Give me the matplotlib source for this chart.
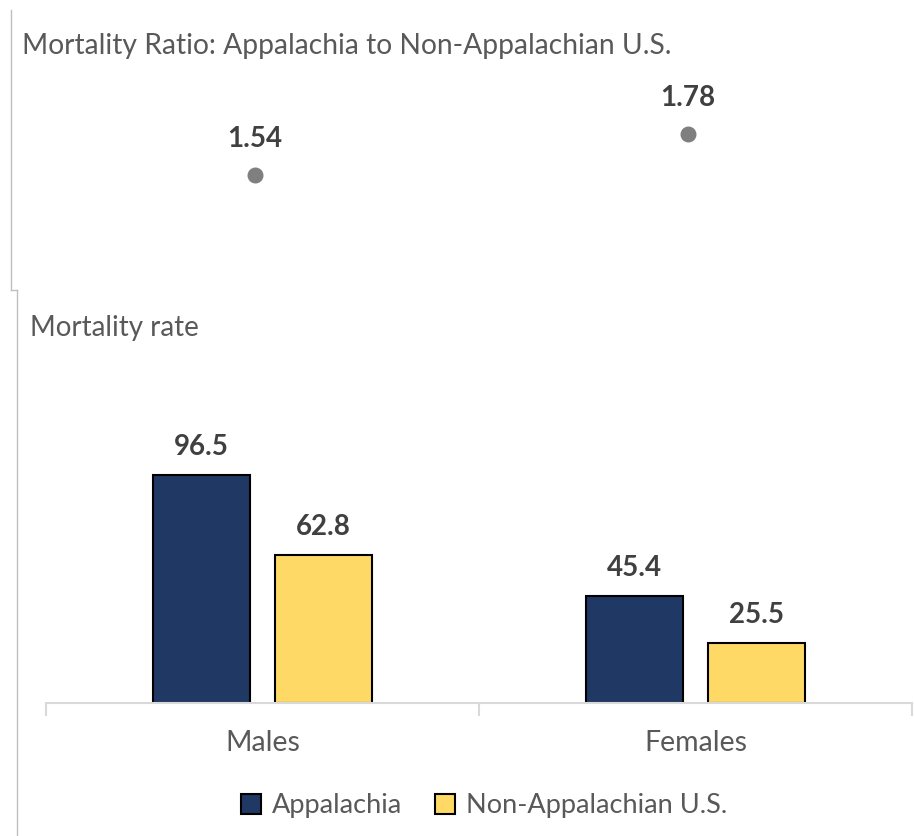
import matplotlib.pyplot as plt
from matplotlib.lines import Line2D
from matplotlib.patches import Patch

plt.rcParams['font.family'] = ['Lato', 'DejaVu Sans']

categories = ['Males', 'Females']
appalachia = [96.5, 45.4]
non_appalachia = [62.8, 25.5]
ratio = [1.54, 1.78]

navy = '#1F3864'
yellow = '#FFD966'
grey_text = '#595959'
label_text = '#404040'

W, H = 914, 836
fig = plt.figure(figsize=(W / 100, H / 100), dpi=100)


def box(left, top, right, bottom):
    # pixel box -> figure fraction rect
    return [left / W, 1 - bottom / H, (right - left) / W, (bottom - top) / H]


# panel border lines (light grey frame pieces)
fig.add_artist(Line2D([10.5 / W, 10.5 / W], [1 - 10 / H, 1 - 290 / H], color='#BFBFBF', lw=1))
fig.add_artist(Line2D([10.5 / W, 16.5 / W], [1 - 290 / H, 1 - 290 / H], color='#BFBFBF', lw=1))
fig.add_artist(Line2D([16.5 / W, 16.5 / W], [1 - 290 / H, 0], color='#BFBFBF', lw=1))

# top panel: ratio dots
ax1 = fig.add_axes(box(38, 79, 904, 250))
x = list(range(len(categories)))
ax1.scatter(x, ratio, s=110, color='#7F7F7F', zorder=3)
for xi, r in zip(x, ratio):
    ax1.annotate(f'{r:.2f}', (xi, r), xytext=(0, 36), textcoords='offset pixels',
                 ha='center', va='center', fontsize=20, fontweight='bold', color=label_text)
ax1.set_xlim(-0.5, 1.5)
ax1.set_ylim(1.1, 2.1)
ax1.axis('off')
fig.text(22 / W, 1 - 46 / H, 'Mortality Ratio: Appalachia to Non-Appalachian U.S.',
         ha='left', va='center', fontsize=20.3, color=grey_text)

# bottom panel: bars
ax2 = fig.add_axes(box(46, 420, 912, 703))
bw = 0.224
off = 0.141
b1 = ax2.bar([xi - off for xi in x], appalachia, bw, color=navy, edgecolor='black', lw=1.5,
             label='Appalachia')
b2 = ax2.bar([xi + off for xi in x], non_appalachia, bw, color=yellow, edgecolor='black', lw=1.5,
             label='Non-Appalachian U.S.')
for bars in (b1, b2):
    for b in bars:
        ax2.annotate(f'{b.get_height():.1f}', (b.get_x() + b.get_width() / 2, b.get_height()),
                     xytext=(0, 28), textcoords='offset pixels', ha='center', va='center',
                     fontsize=20, fontweight='bold', color=label_text)
ax2.set_xlim(-0.5, 1.5)
ax2.set_ylim(0, 120)
for s in ['top', 'right', 'left']:
    ax2.spines[s].set_visible(False)
ax2.spines['bottom'].set_color('#D9D9D9')
ax2.spines['bottom'].set_linewidth(1.5)
ax2.set_yticks([])
ax2.set_xticks([-0.5, 0.5, 1.5])
ax2.set_xticklabels([])
ax2.tick_params(axis='x', length=9, width=1.5, color='#D9D9D9')
for xi, c in zip(x, categories):
    ax2.text(xi, -17, c, ha='center', va='center', fontsize=20.5, color=grey_text)
fig.text(30 / W, 1 - 328 / H, 'Mortality rate', ha='left', va='center',
         fontsize=20, color=grey_text)

handles = [Patch(facecolor=navy, edgecolor='black', lw=1.5),
           Patch(facecolor=yellow, edgecolor='black', lw=1.5)]
fig.legend(handles, ['Appalachia', 'Non-Appalachian U.S.'], loc='center',
           bbox_to_anchor=(484 / W, 1 - 806 / H), ncol=2, frameon=False,
           fontsize=19.5, labelcolor=grey_text, handlelength=0.75, handleheight=0.75,
           handletextpad=0.4, columnspacing=1.2)

fig.savefig('out.png', dpi=100)
